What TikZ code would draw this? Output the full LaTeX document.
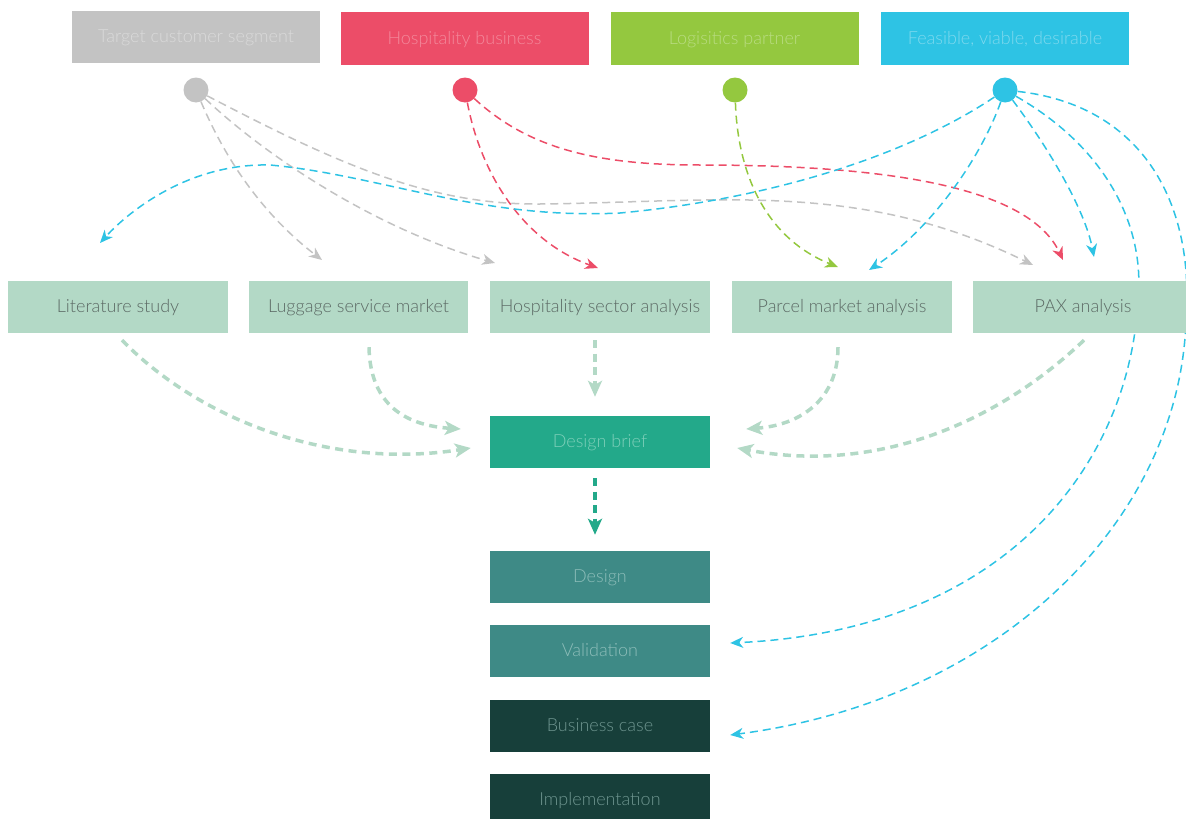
\documentclass[tikz,border=0pt]{standalone}
\usepackage{fontspec}
\setmainfont{Lato}[UprightFont=* Light]
\usetikzlibrary{arrows.meta,calc}
\pgfdeclarelayer{background}
\pgfsetlayers{background,main}

\definecolor{cGray}{HTML}{C3C3C3}
\definecolor{cGrayTxt}{HTML}{DADADA}
\definecolor{cRed}{HTML}{EC4D68}
\definecolor{cRedTxt}{HTML}{F3899B}
\definecolor{cGreen}{HTML}{94C83F}
\definecolor{cGreenTxt}{HTML}{B9DC82}
\definecolor{cCyan}{HTML}{2EC3E4}
\definecolor{cCyanTxt}{HTML}{7FD9EE}
\definecolor{cMint}{HTML}{B3D9C6}
\definecolor{cMintTxt}{HTML}{5C6A65}
\definecolor{cTeal}{HTML}{23A98A}
\definecolor{cTealTxt}{HTML}{7ECFB9}
\definecolor{cSea}{HTML}{3E8A86}
\definecolor{cSeaTxt}{HTML}{8DBDB9}
\definecolor{cDark}{HTML}{173F3A}
\definecolor{cDarkTxt}{HTML}{6E958F}

\tikzset{
  box/.style={rectangle, inner sep=0pt, minimum width=220pt, minimum height=52pt,
    text height=1.12em, text depth=0pt,
    font=\fontsize{18}{21}\selectfont},
  headbox/.style={box, minimum width=248pt, minimum height=53pt},
  dot/.style={circle, inner sep=0pt, minimum size=25pt},
  thin link/.style={line width=1.5pt, dash pattern=on 8pt off 5pt,
    -{Stealth[length=13pt, width=11pt, inset=4pt]}},
  thick link/.style={line width=3.5pt, dash pattern=on 8pt off 5.5pt, color=cMint,
    -{Stealth[length=16pt, width=14pt, inset=4pt]}},
}

\begin{document}
\begin{tikzpicture}[x=1pt, y=-1pt]
\useasboundingbox (0,0) rectangle (1186,819);

% stakeholder headers
\node[headbox, fill=cGray, text=cGrayTxt, minimum height=52pt] (hTarget) at (196,36.5) {Target customer segment};
\node[headbox, fill=cRed, text=cRedTxt] (hHosp) at (464.5,38.5) {Hospitality business};
\node[headbox, fill=cGreen, text=cGreenTxt] (hLog) at (734.5,38.5) {Logisitics partner};
\node[headbox, fill=cCyan, text=cCyanTxt] (hFeas) at (1005,38.5) {Feasible, viable, desirable};

% stakeholder dots
\node[dot, fill=cGray] (dGray) at (196,90) {};
\node[dot, fill=cRed] (dRed) at (465,90) {};
\node[dot, fill=cGreen] (dGreen) at (735,90) {};
\node[dot, fill=cCyan] (dCyan) at (1005,90) {};

% research streams
\node[box, fill=cMint, text=cMintTxt] (lit) at (118,307) {Literature study};
\node[box, fill=cMint, text=cMintTxt, minimum width=219pt] (lug) at (358.5,307) {Luggage service market};
\node[box, fill=cMint, text=cMintTxt] (hos) at (600,307) {Hospitality sector analysis};
\node[box, fill=cMint, text=cMintTxt] (par) at (842,307) {Parcel market analysis};
\node[box, fill=cMint, text=cMintTxt] (pax) at (1083,307) {PAX analysis};

% process column
\node[box, fill=cTeal, text=cTealTxt] (brief) at (600,442) {Design brief};
\node[box, fill=cSea, text=cSeaTxt] (design) at (600,577) {Design};
\node[box, fill=cSea, text=cSeaTxt] (valid) at (600,651) {Validation};
\node[box, fill=cDark, text=cDarkTxt] (bcase) at (600,726) {Business case};
\node[box, fill=cDark, text=cDarkTxt] (impl) at (600,800) {Implementation};

% free ends of the stakeholder links
\coordinate (tLitC) at (100,243);
\coordinate (tLugG) at (322,260);
\coordinate (tHosG) at (495,263);
\coordinate (tHosR) at (598,268);
\coordinate (tParG) at (838,267);
\coordinate (tParC) at (869,270);
\coordinate (tPaxG) at (1033,265);
\coordinate (tPaxR) at (1063,260);
\coordinate (tPaxC) at (1094,257);
\coordinate (tVal) at ($(valid.east)+(20,-8)$);
\coordinate (tBus) at ($(bcase.east)+(20,9)$);

\begin{pgfonlayer}{background}
  % target customer segment
  \draw[thin link, cGray] (dGray) .. controls (230,170) and (270,220) .. (tLugG);
  \draw[thin link, cGray] (dGray) .. controls (270,160) and (380,230) .. (tHosG);
  \draw[thin link, cGray] (dGray) .. controls (340,165) and (430,205) .. (540,204)
      .. controls (720,202) and (860,180) .. (tPaxG);
  % hospitality business
  \draw[thin link, cRed] (dRed) .. controls (480,170) and (520,240) .. (tHosR);
  \draw[thin link, cRed] (dRed) .. controls (530,150) and (600,165) .. (700,165)
      .. controls (900,165) and (1030,190) .. (tPaxR);
  % logistics partner
  \draw[thin link, cGreen] (dGreen) .. controls (738,180) and (770,240) .. (tParG);
  % feasible, viable, desirable
  \draw[thin link, cCyan] (dCyan) .. controls (900,160) and (760,200) .. (620,213)
      .. controls (480,220) and (380,175) .. (270,165)
      .. controls (190,163) and (130,210) .. (tLitC);
  \draw[thin link, cCyan] (dCyan) .. controls (980,160) and (930,230) .. (tParC);
  \draw[thin link, cCyan] (dCyan) .. controls (1050,150) and (1085,210) .. (tPaxC);
  \draw[thin link, cCyan] (dCyan) .. controls (1110,150) and (1145,230) .. (1138,300)
      .. controls (1130,460) and (1010,630) .. (tVal);
  \draw[thin link, cCyan] (dCyan) .. controls (1140,105) and (1195,200) .. (1186,320)
      .. controls (1180,520) and (1000,700) .. (tBus);

  % research streams into the design brief
  \draw[thick link] ($(lit.south)+(4,7)$) .. controls (200,420) and (330,470) .. ($(brief.west)+(-19,6)$);
  \draw[thick link] ($(lug.south)+(10.5,14)$) .. controls (370,400) and (400,425) .. ($(brief.west)+(-29,-13)$);
  \draw[thick link] ($(hos.south)+(-5,7)$) -- ($(brief.north)+(-5,-19)$);
  \draw[thick link] ($(par.south)+(-4,14)$) .. controls (838,400) and (800,425) .. ($(brief.east)+(36,-13)$);
  \draw[thick link] ($(pax.south)+(1,7)$) .. controls (1000,420) and (880,475) .. ($(brief.east)+(27,6)$);

  % design brief into design
  \draw[thick link, cTeal] ($(brief.south)+(-5,10)$) -- ($(design.north)+(-5,-16)$);
\end{pgfonlayer}
\end{tikzpicture}
\end{document}
